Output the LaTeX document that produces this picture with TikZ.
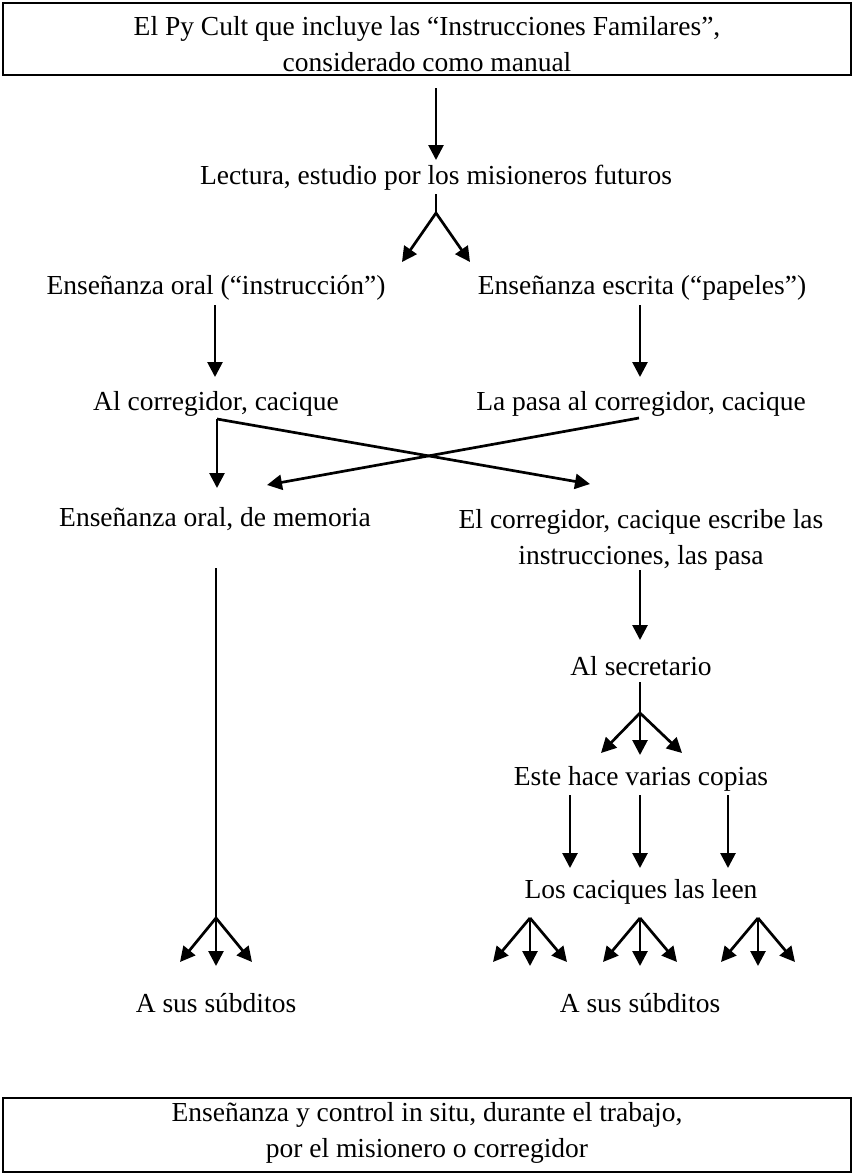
\documentclass[tikz,border=0pt]{standalone}
\usepackage{fontspec}
\setmainfont{Liberation Serif}
\usetikzlibrary{arrows.meta}
\begin{document}
\begin{tikzpicture}[x=1pt,y=-1pt,
  lbl/.style={font=\fontsize{27.5}{36}\selectfont, inner sep=0pt, align=center},
  ln/.style={line width=2.7pt},
  arr/.style={ln,-{Triangle[length=15pt,width=15pt]}},
  framebox/.style={draw, line width=2.7pt, minimum width=848pt, minimum height=72pt, inner sep=0pt}]
\useasboundingbox (0,0) rectangle (854,1176);
% boxes
\node[framebox] (topbox) at (427,39) {};
\node[lbl] (toptext) at (427,44) {El Py Cult que incluye las “Instrucciones Familares”,\\considerado como manual};
\node[framebox, minimum height=74pt] (botbox) at (427,1135) {};
\node[lbl] (bottext) at (427,1133) {Enseñanza y control in situ, durante el trabajo,\\por el misionero o corregidor};
% labels
\node[lbl] (lectura) at (436,178) {Lectura, estudio por los misioneros futuros};
\node[lbl] (oral) at (216,288) {Enseñanza oral (“instrucción”)};
\node[lbl] (escrita) at (642,288) {Enseñanza escrita (“papeles”)};
\node[lbl] (alcorr) at (216,404) {Al corregidor, cacique};
\node[lbl] (lapasa) at (641,404) {La pasa al corregidor, cacique};
\node[lbl] (memoria) at (215,519) {Enseñanza oral, de memoria};
\node[lbl] (escribe) at (641,540) {El corregidor, cacique escribe las\\instrucciones, las pasa};
\node[lbl] (secret) at (641,666) {Al secretario};
\node[lbl] (copias) at (641,779) {Este hace varias copias};
\node[lbl] (leen) at (641,892) {Los caciques las leen};
\node[lbl] (subL) at (216,1003) {A sus súbditos};
\node[lbl] (subR) at (640,1003) {A sus súbditos};
% coordinates
\coordinate (a1s) at (436,88);  \coordinate (a1e) at (436,160);
\coordinate (a2s) at (436,194); \coordinate (j2) at (436,213);
\coordinate (t2l) at (402,262); \coordinate (t2r) at (470,262);
\coordinate (a3s) at (215,305); \coordinate (a3e) at (215,377);
\coordinate (a4s) at (640,305); \coordinate (a4e) at (640,377);
\coordinate (c1) at (217,419);  \coordinate (c1e) at (217,488);
\coordinate (c1d) at (590,484);
\coordinate (c2) at (639,418);  \coordinate (c2e) at (267,485);
\coordinate (lls) at (216,568); \coordinate (llj) at (216,918);
\coordinate (lt1) at (180,962); \coordinate (lt2) at (216,966); \coordinate (lt3) at (252,962);
\coordinate (rs) at (640,570);  \coordinate (re) at (640,640);
\coordinate (ss) at (640,682);  \coordinate (sj) at (640,713);
\coordinate (st1) at (601,753); \coordinate (st2) at (640,755); \coordinate (st3) at (682,753);
\coordinate (ca1) at (570,795); \coordinate (ce1) at (570,868);
\coordinate (ca2) at (640,795); \coordinate (ce2) at (640,868);
\coordinate (ca3) at (728,795); \coordinate (ce3) at (728,868);
% arrows
\draw[arr] (a1s) -- (a1e);
\draw[ln] (a2s) -- (j2);
\draw[arr] (j2) -- (t2l);
\draw[arr] (j2) -- (t2r);
\draw[arr] (a3s) -- (a3e);
\draw[arr] (a4s) -- (a4e);
\draw[arr] (c1) -- (c1e);
\draw[arr] (c1) -- (c1d);
\draw[arr] (c2) -- (c2e);
\draw[ln] (lls) -- (llj);
\draw[arr] (llj) -- (lt1);
\draw[arr] (llj) -- (lt2);
\draw[arr] (llj) -- (lt3);
\draw[arr] (rs) -- (re);
\draw[ln] (ss) -- (sj);
\draw[arr] (sj) -- (st1);
\draw[arr] (sj) -- (st2);
\draw[arr] (sj) -- (st3);
\draw[arr] (ca1) -- (ce1);
\draw[arr] (ca2) -- (ce2);
\draw[arr] (ca3) -- (ce3);
\foreach \cx/\n in {530/g1,640/g2,758/g3} {
  \coordinate (\n j) at (\cx,918);
  \coordinate (\n l) at (\cx-37,962);
  \coordinate (\n m) at (\cx,966);
  \coordinate (\n r) at (\cx+37,962);
  \draw[arr] (\n j) -- (\n l);
  \draw[arr] (\n j) -- (\n m);
  \draw[arr] (\n j) -- (\n r);
}
\end{tikzpicture}
\end{document}
